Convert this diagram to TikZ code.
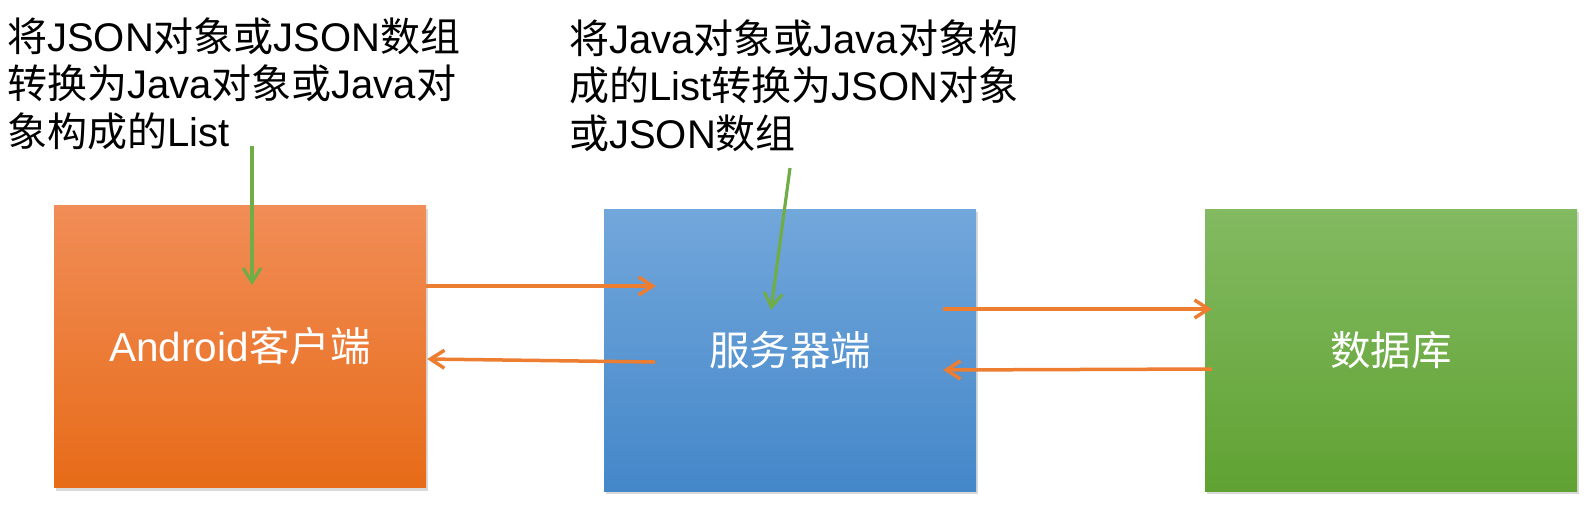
\documentclass[tikz,border=0pt]{standalone}
\usepackage{fontspec}
\setmainfont{Liberation Sans}
\newfontfamily\cjk{Noto Sans CJK SC}
\newcommand{\zh}[1]{{\cjk #1}}
\usetikzlibrary{arrows.meta,shadows}

\definecolor{clientTop}{HTML}{F18D57}
\definecolor{clientBot}{HTML}{E76B18}
\definecolor{serverTop}{HTML}{72A7DB}
\definecolor{serverBot}{HTML}{4487C9}
\definecolor{dbTop}{HTML}{83BA62}
\definecolor{dbBot}{HTML}{60A232}
\definecolor{flowOrange}{HTML}{ED7D31}
\definecolor{noteGreen}{HTML}{70AD47}

\tikzset{
	tier/.style={minimum width=372pt, minimum height=282pt, inner sep=0pt,
		text=white, font=\fontsize{40.5}{48}\selectfont,
		drop shadow={shadow xshift=2pt, shadow yshift=-3pt, opacity=.3}},
	note/.style={anchor=base west, align=left, inner sep=0pt,
		font=\fontsize{40}{47.5}\selectfont},
	flow/.style={draw=flowOrange, line width=3.5pt,
		-{Straight Barb[length=14pt, width=18pt, line width=3.5pt]}},
	hint/.style={draw=noteGreen, line width=3.2pt,
		-{Straight Barb[length=14pt, width=18pt, line width=3.2pt]}}
}

\begin{document}
\begin{tikzpicture}[x=1pt, y=-1pt]
		\useasboundingbox	(0, 0) rectangle (1587, 515);

		% the three tiers
		\node [tier, top color=clientTop, bottom color=clientBot]	(client)	at (240, 346.5)	{Android\zh{客户端}};
		\node [tier, top color=serverTop, bottom color=serverBot]	(server)	at (790, 350)	{\zh{服务器端}};
		\node [tier, top color=dbTop, bottom color=dbBot]			(db)		at (1391, 350)	{\zh{数据库}};

		% notes (anchored at the last line)
		\node [note]	(parseNote)	at (7, 146)
			{\zh{将}JSON\zh{对象或}JSON\zh{数组}\\ \zh{转换为}Java\zh{对象或}Java\zh{对}\\ \zh{象构成的}List};
		\node [note]	(buildNote)	at (569, 148)
			{\zh{将}Java\zh{对象或}Java\zh{对象构}\\ \zh{成的}List\zh{转换为}JSON\zh{对象}\\ \zh{或}JSON\zh{数组}};

		\coordinate (parseTail)	at (252, 146);
		\coordinate (buildTail)	at (790, 168);

		% requests and responses
		\draw [flow]	([yshift=60.5pt]client.east) to ([xshift=52pt, yshift=64pt]server.west);
		\draw [flow]	([xshift=51pt, yshift=-12pt]server.west) to ([xshift=1pt, yshift=-12.5pt]client.east);
		\draw [flow]	([xshift=-33pt, yshift=41pt]server.east) to ([xshift=7pt, yshift=41pt]db.west);
		\draw [flow]	([xshift=7pt, yshift=-19pt]db.west) to ([xshift=-33pt, yshift=-20pt]server.east);

		\draw [hint]	(parseTail) to ([xshift=12pt, yshift=61.5pt]client.center);
		\draw [hint]	(buildTail) to ([xshift=-19pt, yshift=40pt]server.center);
\end{tikzpicture}
\end{document}
